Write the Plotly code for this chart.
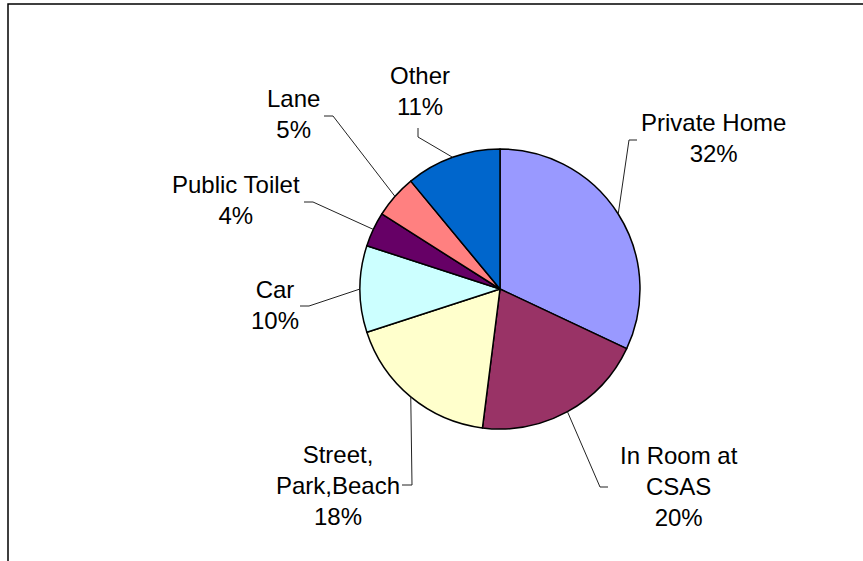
import math
import plotly.graph_objects as go

# Share of cases by location
categories = ["Private Home", "In Room at CSAS", "Street, Park,Beach", "Car",
              "Public Toilet", "Lane", "Other"]
label_lines = ["Private Home", "In Room at<br>CSAS", "Street,<br>Park,Beach", "Car",
               "Public Toilet", "Lane", "Other"]
percent = [32, 20, 18, 10, 4, 5, 11]
colors = ["#9999FF", "#993366", "#FFFFCC", "#CCFFFF", "#660066", "#FF8080", "#0066CC"]

W, H = 863, 561
CX, CY, R = 500, 289, 140

# label centre (px) and leader-line elbow / end (px) for each slice
label_pos = [(713, 138), (679, 486), (338, 485), (275, 305), (236, 200), (293, 114), (420, 91)]
leader = [((629, 140), (637, 140)), ((600, 487), (608, 487)), ((412, 485), (402, 485)),
          ((309, 306), (300, 306)), ((313, 202), (304, 202)), ((333, 116), (324, 116)),
          ((418, 137), (418, 128))]


def px(x, y):
    return x / W, 1 - y / H


fig = go.Figure(go.Pie(
    labels=categories, values=percent, sort=False, direction="clockwise", rotation=0,
    marker=dict(colors=colors, line=dict(color="black", width=1.5)),
    textinfo="none", hoverinfo="label+percent", showlegend=False,
    domain=dict(x=[(CX - R) / W, (CX + R) / W], y=[1 - (CY + R) / H, 1 - (CY - R) / H]),
))

shapes = [dict(type="rect", xref="paper", yref="paper", x0=8 / W, x1=1.05, y0=-0.05, y1=1 - 4 / H,
               line=dict(color="black", width=1.5), fillcolor="rgba(0,0,0,0)", layer="below")]
annotations = []
total = sum(percent)
cum = 0
for name, lines, v, (lx, ly), (elbow, end) in zip(categories, label_lines, percent, label_pos, leader):
    mid = (cum + v / 2) / total * 2 * math.pi
    cum += v
    ex, ey = CX + R * math.sin(mid), CY - R * math.cos(mid)
    p0, p1, p2 = px(ex, ey), px(*elbow), px(*end)
    shapes.append(dict(type="path", xref="paper", yref="paper",
                       path=f"M {p0[0]},{p0[1]} L {p1[0]},{p1[1]} L {p2[0]},{p2[1]}",
                       line=dict(color="#222222", width=1)))
    ax, ay = px(lx, ly)
    annotations.append(dict(x=ax, y=ay, xref="paper", yref="paper", showarrow=False,
                            text=f"{lines}<br>{v}%", xanchor="center", yanchor="middle",
                            align="center", font=dict(family="Liberation Sans, Arial", size=24,
                                                      color="black")))

fig.update_layout(width=W, height=H, margin=dict(l=0, r=0, t=0, b=0),
                  paper_bgcolor="white", plot_bgcolor="white",
                  shapes=shapes, annotations=annotations)
fig.write_html("out.html")
